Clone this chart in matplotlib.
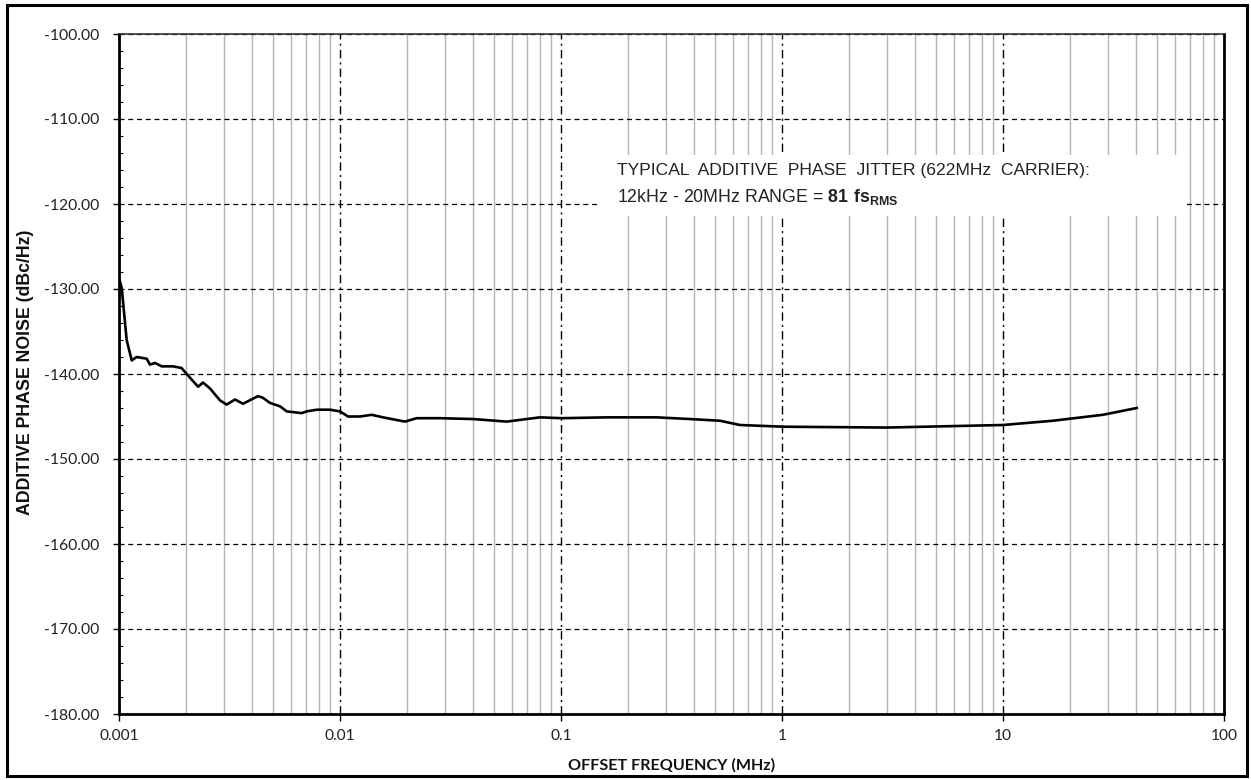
import matplotlib
matplotlib.use("Agg")
import matplotlib.pyplot as plt
from matplotlib.patches import Rectangle
from matplotlib.ticker import FixedLocator, NullFormatter, LogLocator

# ---- data ----
freq_mhz = [0.001, 0.001029, 0.001083, 0.001142, 0.001202, 0.001335, 0.001381,
            0.001455, 0.00156, 0.001755, 0.00192, 0.002025, 0.00228, 0.0024,
            0.00258, 0.002864, 0.00307, 0.00335, 0.00364, 0.004256, 0.00448,
            0.00482, 0.00535, 0.00574, 0.00671, 0.00707, 0.00785, 0.00901,
            0.01, 0.01087, 0.01232, 0.01391, 0.01565, 0.01968, 0.02223,
            0.02835, 0.04, 0.0568, 0.0803, 0.1007, 0.161, 0.271, 0.3835,
            0.524, 0.6457, 1.01, 2.977, 10.0, 16.8, 28.3, 40.3]
noise_dbc = [-128.7, -129.9, -136.0, -138.4, -138.0, -138.2, -138.9,
             -138.7, -139.1, -139.1, -139.3, -140.0, -141.5, -141.0,
             -141.7, -143.1, -143.6, -143.0, -143.5, -142.6, -142.8,
             -143.4, -143.8, -144.4, -144.6, -144.4, -144.2, -144.2,
             -144.4, -145.0, -145.0, -144.8, -145.1, -145.6, -145.2,
             -145.2, -145.3, -145.6, -145.1, -145.2, -145.1, -145.1, -145.3,
             -145.5, -146.0, -146.2, -146.3, -146.0, -145.5, -144.8, -144.0]

x_ticks = [0.001, 0.01, 0.1, 1, 10, 100]
x_tick_labels = ["0.001", "0.01", "0.1", "1", "10", "100"]
y_ticks = [-100, -110, -120, -130, -140, -150, -160, -170, -180]
y_tick_labels = ["%.2f" % v for v in y_ticks]

W, H = 1251, 780
fig = plt.figure(figsize=(W / 100, H / 100), dpi=100)
fig.patch.set_facecolor("white")

# outer frame
fig.patches.append(Rectangle((7 / W, 1 - 776 / H), (1247 - 7) / W, (776 - 5) / H,
                             transform=fig.transFigure, fill=False,
                             edgecolor="black", linewidth=2.2))

L, R, T, B = 119, 1224, 34, 714
ax = fig.add_axes([L / W, 1 - B / H, (R - L) / W, (B - T) / H])
ax.set_xscale("log")
ax.set_xlim(0.001, 100)
ax.set_ylim(-180, -100)

# grid
ax.xaxis.set_minor_locator(LogLocator(base=10, subs=range(2, 10)))
ax.xaxis.set_minor_formatter(NullFormatter())
ax.grid(which="minor", axis="x", color="#b4b4b4", linewidth=1.0, linestyle="-")
ax.grid(which="major", axis="x", color="black", linewidth=1.0,
        linestyle=(0, (6, 3, 1.5, 3)))
ax.grid(which="major", axis="y", color="black", linewidth=0.9,
        linestyle=(0, (4, 3)))
ax.set_axisbelow(True)

ax.set_xticks(x_ticks)
ax.set_xticklabels(x_tick_labels)
ax.set_yticks(y_ticks)
ax.set_yticklabels(y_tick_labels)
ax.yaxis.set_minor_locator(FixedLocator([v for v in range(-180, -99, 2) if v % 10 != 0]))

ax.tick_params(axis="y", which="major", direction="out", length=4.5, width=1,
               labelsize=11.3, pad=9.4, colors="black")
ax.tick_params(axis="y", which="minor", direction="in", length=3, width=0.8)
ax.tick_params(axis="x", which="major", direction="out", length=5, width=1,
               labelsize=11.2, pad=6)
ax.tick_params(axis="x", which="minor", length=0)
for lab in ax.get_xticklabels() + ax.get_yticklabels():
    lab.set_fontfamily("Lato")
    lab.set_color("#222222")

for s in ["left", "bottom"]:
    ax.spines[s].set_linewidth(2.0)
    ax.spines[s].set_color("black")
ax.spines["right"].set_linewidth(2.0)
ax.spines["right"].set_color("black")
ax.spines["top"].set_linewidth(1.2)
ax.spines["top"].set_color("#333333")

# white annotation box
ax.add_patch(Rectangle((600 / W, 1 - 216 / H), (1185 - 600) / W, (216 - 155) / H,
                       transform=fig.transFigure, facecolor="white",
                       edgecolor="none", zorder=1.5))

ax.plot(freq_mhz, noise_dbc, color="black", linewidth=1.9, zorder=3,
        solid_joinstyle="round")

plt.rcParams["mathtext.fontset"] = "custom"
plt.rcParams["mathtext.rm"] = "Liberation Sans"
plt.rcParams["mathtext.bf"] = "Liberation Sans:bold"

fig.text(617 / W, 1 - 171 / H, "TYPICAL  ADDITIVE  PHASE  JITTER (622MHz  CARRIER):",
         fontsize=12.6, family="Liberation Sans", color="#222222", va="center", ha="left")
fig.text(617 / W, 1 - 197 / H, r"12kHz - 20MHz RANGE = $\mathbf{81\ fs_{RMS}}$",
         fontsize=12.8, family="Liberation Sans", color="#222222", va="center", ha="left")

fig.text(26 / W, 1 - 372 / H, "ADDITIVE PHASE NOISE (dBc/Hz)", rotation=90,
         fontsize=12.8, fontweight="bold", family="Liberation Sans",
         va="center", ha="center", color="#111111")
fig.text(672 / W, 1 - 765 / H, "OFFSET FREQUENCY (MHz)",
         fontsize=11.6, fontweight="bold", family="Lato",
         va="center", ha="center", color="#111111")

fig.savefig("out.png", dpi=100, facecolor="white")
